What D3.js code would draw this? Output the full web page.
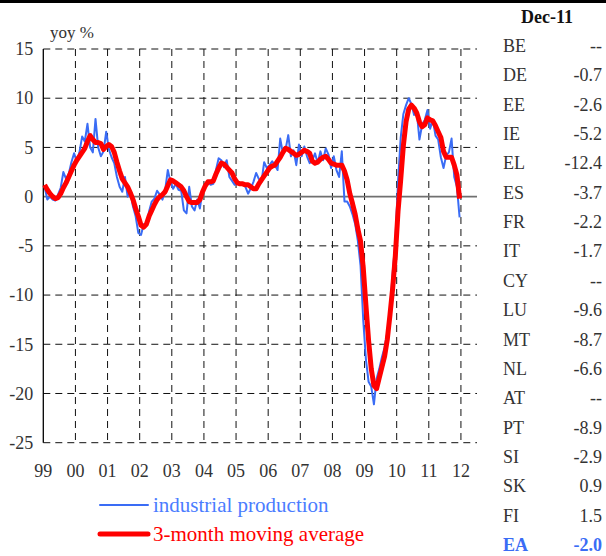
<!DOCTYPE html>
<html>
<head>
<meta charset="utf-8">
<script src="https://cdn.jsdelivr.net/npm/d3@7"></script>
<style>
  body { margin: 0; background: #fff; }
  svg text { font-family: "Liberation Serif", "Times New Roman", serif; }
</style>
</head>
<body>
<div id="chart"></div>
<script>
// x-axis year labels (each one sits on a January gridline)
const yearLabels = ["99","00","01","02","03","04","05","06","07","08","09","10","11","12"];
const yTicks = [15, 10, 5, 0, -5, -10, -15, -20, -25];

// euro area industrial production, yoy %, Jan 1999 - Dec 2011
const industrialProduction = [
  1.0, -0.3, 0.0, -0.3, -0.4, 0.2, 0.9, 2.5, 1.8, 2.3, 3.5, 4.4,
  3.6, 4.5, 6.1, 5.6, 7.4, 5.0, 4.5, 7.9, 5.0, 4.1, 4.6, 6.6,
  4.8, 4.0, 3.4, 2.0, 1.0, 0.5, 2.0, 0.0, 0.5, -1.0, -2.0, -3.7,
  -3.9, -2.8, -2.9, -1.5, -0.5, -0.2, 0.6, 0.2, -0.3, 0.6, 2.7, 1.5,
  0.8, 1.3, 0.7, 0.6, -1.4, -1.7, 1.0, -1.0, -1.4, -0.3, -1.2, 0.7,
  1.2, 1.5, 1.2, 1.3, 2.7, 3.9, 3.7, 3.0, 3.7, 2.0, 1.6, 1.2,
  1.35, 1.3, 1.2, 1.0, 0.3, 0.85, 1.5, 2.4, 1.8, 1.5, 3.5, 2.9,
  3.2, 3.6, 3.2, 2.7, 5.9, 4.4, 4.8, 6.25, 4.1, 4.7, 3.2, 5.3,
  4.1, 5.1, 4.1, 3.4, 3.7, 4.4, 3.4, 4.6, 3.7, 4.9, 4.3, 2.9,
  4.1, 2.7, 2.0, 4.6, -0.5, -0.5, -1.0, -1.8, -2.8, -4.5, -7.0, -12.5,
  -16.5, -18.8, -19.3, -21.1, -18.5, -17.5, -16.3, -15.3, -13.8, -11.5, -7.8, -4.5,
  1.5, 6.0, 8.4, 9.3, 10.0, 9.4, 8.3, 8.6, 5.8, 7.3, 7.8, 8.8,
  6.9, 7.8, 6.2, 5.8, 4.0, 2.9, 4.2, 4.5, 5.9, 2.0, 1.0, -2.1
];

// 3-month moving average, same months
const movingAverage = [
  1.2, 0.7, 0.3, 0.0, -0.2, -0.1, 0.3, 0.9, 1.4, 2.0, 2.6, 3.2,
  3.7, 4.1, 4.5, 4.9, 5.6, 6.2, 5.8, 5.5, 5.5, 5.4, 4.8, 5.1,
  5.3, 5.1, 4.5, 3.5, 2.6, 1.8, 1.4, 1.0, 0.4, -0.3, -1.2, -2.0,
  -2.9, -3.1, -2.8, -2.0, -1.4, -0.8, -0.3, 0.0, 0.2, 0.5, 1.1, 1.7,
  1.6, 1.4, 1.2, 1.0, 0.6, 0.0, -0.5, -0.6, -0.6, -0.6, -0.3, 0.5,
  1.1, 1.5, 1.5, 1.6, 2.3, 2.9, 3.4, 3.3, 3.0, 2.7, 2.4, 1.8,
  1.4, 1.3, 1.3, 1.2, 1.2, 1.0, 0.8, 0.8, 1.3, 1.7, 2.1, 2.5,
  2.9, 3.1, 3.2, 3.6, 4.0, 4.5, 4.9, 4.8, 4.6, 4.4, 4.2, 4.3,
  4.5, 4.7, 4.6, 4.4, 3.6, 3.4, 3.5, 3.8, 4.0, 4.1, 3.8, 3.4,
  3.3, 3.2, 3.2, 3.2, 2.6, 1.7, 0.3, -0.7, -1.8, -3.3, -4.5, -7.2,
  -11.0, -14.6, -17.5, -19.2, -19.5, -18.4, -17.3, -16.2, -14.5, -12.0, -9.3, -6.0,
  -1.5, 1.7, 5.2, 7.6, 8.9, 9.3, 9.0, 8.5, 7.6, 7.1, 7.3, 8.0,
  7.8, 7.7, 7.2, 6.6, 6.0, 4.6, 4.0, 4.0, 4.0, 3.2, 2.2, -0.2
];

// side table: latest reading per country
const tableTitle = "Dec-11";
const countries = ["BE","DE","EE","IE","EL","ES","FR","IT","CY","LU","MT","NL","AT","PT","SI","SK","FI","EA"];
const dec11Values = ["--","-0.7","-2.6","-5.2","-12.4","-3.7","-2.2","-1.7","--","-9.6","-8.7","-6.6","--","-8.9","-2.9","0.9","1.5","-2.0"];

const width = 606, height = 556;
const blue = "#3a6cf5";
const textColor = "#333";
const serif = '"Liberation Serif", "Times New Roman", serif';

const svg = d3.select("#chart").append("svg")
  .attr("width", width)
  .attr("height", height);

// thick rule across the top
svg.append("rect")
  .attr("x", 0).attr("y", 0)
  .attr("width", width).attr("height", 3)
  .attr("fill", "#000");

const x = d3.scaleLinear().domain([0, 162]).range([43.3, 477]);
const y = d3.scaleLinear().domain([-25, 15]).range([442.7, 49]);

// dashed grid
svg.append("g")
  .selectAll("line")
  .data(yTicks.filter(d => d !== 0))
  .join("line")
  .attr("x1", x(0)).attr("x2", x(162))
  .attr("y1", d => y(d)).attr("y2", d => y(d))
  .attr("stroke", "#111")
  .attr("stroke-dasharray", "7,5");

svg.append("g")
  .selectAll("line")
  .data(yearLabels.slice(1))
  .join("line")
  .attr("x1", (d, i) => x((i + 1) * 12)).attr("x2", (d, i) => x((i + 1) * 12))
  .attr("y1", y(15)).attr("y2", y(-25))
  .attr("stroke", "#111")
  .attr("stroke-dasharray", "7,5");

// zero line
svg.append("line")
  .attr("x1", x(0)).attr("x2", x(162))
  .attr("y1", y(0)).attr("y2", y(0))
  .attr("stroke", "#707070")
  .attr("stroke-width", 1.6);

// y axis labels (plain hyphen for negatives, like the original)
const yAxis = svg.append("g")
  .attr("transform", `translate(${x(0)},0)`)
  .call(d3.axisLeft(y).tickValues(yTicks).tickSize(0).tickPadding(10).tickFormat(d => String(d)));
yAxis.attr("font-family", serif).attr("font-size", 18);
yAxis.select(".domain").remove();
yAxis.selectAll("text").attr("fill", textColor);

svg.append("line")
  .attr("x1", x(0)).attr("x2", x(0))
  .attr("y1", y(15)).attr("y2", y(-25))
  .attr("stroke", "#000")
  .attr("stroke-width", 1.3);

// x axis labels
svg.append("g")
  .selectAll("text")
  .data(yearLabels)
  .join("text")
  .attr("x", (d, i) => x(i * 12))
  .attr("y", 477)
  .attr("text-anchor", "middle")
  .attr("fill", textColor)
  .style("font-size", "18px")
  .text(d => d);

svg.append("text")
  .attr("x", 50).attr("y", 38)
  .attr("fill", textColor)
  .style("font-size", "17px")
  .text("yoy %");

// series
const line = d3.line()
  .x((d, i) => x(i + 0.5))
  .y(d => y(d));

svg.append("path")
  .datum(industrialProduction)
  .attr("d", line)
  .attr("fill", "none")
  .attr("stroke", blue)
  .attr("stroke-width", 2)
  .attr("stroke-linejoin", "round");

svg.append("path")
  .datum(movingAverage)
  .attr("d", line)
  .attr("fill", "none")
  .attr("stroke", "#ff0000")
  .attr("stroke-width", 5)
  .attr("stroke-linejoin", "round");

// legend
const legendItems = [
  { label: "industrial production", color: blue, textFill: "#4a7cff", w: 2, y: 505 },
  { label: "3-month moving average", color: "#ff0000", textFill: "#ff0000", w: 5, y: 534 }
];
const legend = svg.append("g");
legendItems.forEach(d => {
  legend.append("line")
    .attr("x1", 100).attr("x2", 148)
    .attr("y1", d.y).attr("y2", d.y)
    .attr("stroke", d.color)
    .attr("stroke-width", d.w)
    .attr("stroke-linecap", "round");
  legend.append("text")
    .attr("x", 153).attr("y", d.y + 7)
    .attr("fill", d.textFill)
    .style("font-size", "21px")
    .text(d.label);
});

// side table
const table = svg.append("g");
table.append("text")
  .attr("x", 547).attr("y", 23)
  .attr("text-anchor", "middle")
  .attr("fill", "#111")
  .style("font-size", "18px")
  .style("font-weight", "bold")
  .text(tableTitle);

const rowY = i => 46 + i * 29.35;
countries.forEach((c, i) => {
  const last = c === "EA";
  table.append("text")
    .attr("x", 503).attr("y", rowY(i) + 6)
    .attr("fill", last ? blue : textColor)
    .style("font-size", "18px")
    .style("font-weight", last ? "bold" : "normal")
    .text(c);
  table.append("text")
    .attr("x", 602).attr("y", rowY(i) + 6)
    .attr("text-anchor", "end")
    .attr("fill", last ? blue : textColor)
    .style("font-size", "18px")
    .style("font-weight", last ? "bold" : "normal")
    .text(dec11Values[i]);
});
</script>
</body>
</html>
